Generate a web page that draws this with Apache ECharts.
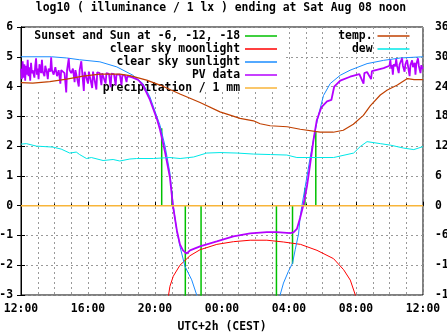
<!DOCTYPE html>
<html>
<head>
<meta charset="utf-8">
<script src="https://cdn.jsdelivr.net/npm/echarts@6/dist/echarts.min.js"></script>
<style>html,body{margin:0;padding:0;background:#fff}#c{width:447px;height:335px}</style>
</head>
<body>
<div id="c"></div>
<script>
// time axis: hours since 12:00 (Fri) ... 24 = 12:00 Sat
const xTickHours = [0, 4, 8, 12, 16, 20, 24];
const xTickLabels = ['12:00', '16:00', '20:00', '00:00', '04:00', '08:00', '12:00'];

// Sunset and sun at -6, -12, -18 (vertical markers: time, top, bottom)
const sunEventHours = [8.40, 9.01, 9.81, 10.75, 15.25, 16.21, 16.95, 17.60];
const sunEventTop   = [2.6, 0.5, 0, 0, 0, 0, 0.6, 2.5];
const sunEventBot   = [0, 0, -3.2, -3.2, -3.2, -1.95, 0, 0];

// clear sky moonlight (log10 lx)
const moonHours = [8.70, 8.89, 9.09, 9.49, 10.09, 10.69, 11.69, 12.68, 13.68, 14.68, 15.67, 16.69, 17.67, 18.66, 19.26, 19.66, 19.96, 20.05];
const moonLog   = [-3.4, -2.71, -2.37, -2.0, -1.68, -1.48, -1.3, -1.21, -1.16, -1.16, -1.22, -1.3, -1.5, -1.78, -2.15, -2.5, -3.0, -3.3];

// clear sky sunlight (log10 lx); null = no sun
const sunHours = [0, 1.82, 1.85, 2.73, 3.5, 4.71, 5.72, 6.68, 7.28, 7.7, 8.12, 8.3, 8.6, 8.89, 9.09, 9.29, 9.49, 9.79, 10.19, 10.49, 10.6,
                  13.0,
                  15.35, 15.47, 15.67, 15.97, 16.21, 16.37, 16.57, 16.67, 16.77, 16.97, 17.27, 17.57, 17.76, 18.06, 18.46, 19.06, 19.65, 20.66, 21.65, 22.65, 24];
const sunLog   = [5.0, 5.0, 4.97, 4.96, 4.9, 4.83, 4.66, 4.38, 4.1, 3.65, 2.98, 2.7, 2.0, 1.1, 0.0, -0.8, -1.37, -2.04, -2.49, -3.0, -3.3,
                  null,
                  -3.3, -3.0, -2.6, -2.2, -1.93, -1.48, -0.95, -0.36, 0.0, 0.64, 1.64, 2.54, 3.04, 3.7, 4.1, 4.38, 4.55, 4.77, 4.88, 4.96, 5.0];

// PV data (log10 lx)
const pvHours = [0.00,0.05,0.10,0.15,0.20,0.25,0.30,0.35,0.40,0.45,0.50,0.55,0.60,0.65,0.70,0.80,0.85,0.90,0.95,1.00,
  1.05,1.10,1.20,1.25,1.30,1.40,1.45,1.55,1.60,1.65,1.75,1.80,1.85,1.95,2.05,2.15,2.25,2.35,2.40,2.50,
  2.60,2.70,2.75,2.85,2.90,3.00,3.10,3.20,3.25,3.35,3.45,3.50,3.60,3.65,3.75,3.80,3.90,4.00,4.05,4.15,
  4.25,4.30,4.40,4.50,4.55,4.70,4.80,4.85,4.95,5.05,5.10,5.25,5.35,5.40,5.55,5.65,5.70,5.90,6.00,6.05,
  6.20,6.30,6.35,6.50,6.68,7.0,7.28,7.7,8.12,8.3,8.6,8.89,9.07,9.31,9.49,9.67,9.89,9.97,10.09,10.69,
  11.69,12.68,13.68,14.68,15.28,16.07,16.27,16.47,16.67,16.86,17.07,17.27,17.46,17.66,17.93,18.27,18.53,18.7,18.76,19.06,
  19.65,20.2,20.45,20.5,20.66,20.9,20.95,21.65,22.00,22.05,22.10,22.15,22.20,22.25,22.35,22.40,22.45,22.55,22.60,22.70,
  22.75,22.80,22.90,22.95,23.05,23.10,23.20,23.25,23.35,23.40,23.50,23.55,23.60,23.70,23.75,23.85,23.90,23.95,24.00];
const pvLog = [4.60,4.25,4.85,4.30,4.75,4.20,4.70,4.40,4.90,4.35,4.65,4.20,4.80,4.45,4.55,4.30,4.70,4.95,4.40,4.60,
  4.25,4.75,4.45,4.90,4.50,4.35,4.70,4.45,4.25,4.60,4.50,4.98,4.55,4.40,4.65,4.35,4.55,4.10,4.55,4.60,
  4.45,3.80,4.55,4.95,4.55,4.45,4.60,4.15,4.55,4.50,4.00,4.55,4.85,4.50,3.85,4.50,4.55,4.10,4.50,4.48,
  3.95,4.50,4.48,3.90,4.48,4.45,4.05,4.45,4.47,4.10,4.45,4.43,3.98,4.43,4.42,4.05,4.40,4.40,4.05,4.38,
  4.38,4.15,4.36,4.33,4.30,4.22,4.05,3.55,2.9,2.55,1.8,0.95,0.0,-0.85,-1.3,-1.5,-1.61,-1.55,-1.5,-1.37,
  -1.2,-1.03,-0.93,-0.89,-0.89,-0.92,-0.9,-0.78,-0.4,0.03,0.64,1.42,2.2,2.87,3.3,3.5,3.55,4.0,4.05,4.2,
  4.33,4.42,4.1,4.45,4.49,4.25,4.52,4.62,4.70,4.90,4.60,4.72,4.40,4.75,4.68,4.92,4.70,4.45,4.74,4.72,
  4.95,4.70,4.50,4.75,4.90,4.70,4.35,4.72,4.88,4.65,4.80,4.40,4.75,4.95,4.70,4.45,4.72,4.60,4.65];

// precipitation / 1 mm
const precipHours = [0, 2, 4, 6, 8, 10, 12, 14, 16, 18, 20, 22, 24];
const precipVals  = [0, 0, 0, 0, 0, 0, 0, 0, 0, 0, 0, 0, 0];

// temperature (deg C, right axis)
const tempHours = [0, 0.7, 1.72, 2.72, 3.71, 4.71, 5.9, 6.5, 7.5, 8.3, 9.49, 10.69, 11.88, 13.08, 13.88, 14.28, 14.87, 15.89, 16.67, 17.86, 18.64, 19.24, 19.84, 20.44, 20.85, 21.45, 21.87, 22.47, 23.07, 23.47, 24];
const tempC     = [24.8, 24.7, 25.0, 25.5, 26.1, 26.5, 26.5, 26.2, 25.3, 24.3, 22.5, 20.8, 18.9, 17.6, 17.1, 16.5, 16.1, 15.9, 15.4, 14.8, 14.8, 15.2, 16.4, 18.2, 20.1, 22.3, 23.3, 24.3, 25.6, 25.4, 25.4];

// dew point (deg C, right axis)
const dewHours = [0, 0.32, 0.92, 1.91, 2.4, 2.91, 3.3, 3.5, 3.91, 4.2, 4.9, 5.5, 5.9, 6.5, 6.9, 7.9, 8.89, 9.5, 10.3, 11.09, 11.88, 12.9, 13.88, 14.9, 15.87, 16.47, 17.3, 18.66, 19.86, 20.25, 20.66, 21.45, 22.05, 22.85, 23.45, 24];
const dewC     = [12.4, 12.5, 12.0, 11.8, 11.4, 10.6, 10.8, 10.3, 9.5, 9.7, 9.1, 9.3, 9.0, 9.4, 9.5, 9.5, 9.7, 9.5, 9.8, 10.6, 10.7, 10.6, 10.4, 10.3, 10.2, 9.7, 9.7, 9.7, 10.6, 11.9, 12.9, 12.5, 12.2, 11.6, 11.3, 11.9];

const zip = (xs, ys) => xs.map((x, i) => [x, ys[i] === null ? '-' : ys[i]]);
const sunEventData = [];
sunEventHours.forEach((h, i) => {
  sunEventData.push([h, sunEventBot[i]], [h, sunEventTop[i]], [h, '-']);
});

const FONT = 'DejaVu Sans Mono';
const FS = 11.4;
const txt = {fontFamily: FONT, fontWeight: 'bold', fontSize: FS, color: '#000'};

const chart = echarts.init(document.getElementById('c'), null, {renderer: 'canvas'});
chart.setOption({
  animation: false,
  backgroundColor: '#fff',
  title: {
    text: 'log10 ( illuminance / 1 lx ) ending at Sat Aug 08 noon',
    left: 221, top: 1, textAlign: 'center', padding: 0,
    textStyle: Object.assign({}, txt, {lineHeight: 14})
  },
  grid: {left: 21, right: 24, top: 27, bottom: 40, show: true, borderColor: '#000', borderWidth: 1,
         backgroundColor: 'transparent', containLabel: false, outerBoundsMode: 'none'},
  graphic: [{
    type: 'rect', z: 1, silent: true,
    shape: {x: 22, y: 28, width: 261, height: 64},
    style: {fill: '#fff'}
  }],
  legend: [{
    orient: 'vertical', align: 'right', right: 170, top: 29.5, padding: 0,
    icon: 'rect', itemWidth: 32, itemHeight: 1.5, itemGap: 0,
    textStyle: Object.assign({}, txt, {lineHeight: 13}),
    data: ['Sunset and Sun at -6, -12, -18', 'clear sky moonlight', 'clear sky sunlight', 'PV data', 'precipitation / 1 mm']
  }, {
    orient: 'vertical', align: 'right', right: 37.5, top: 29.5, padding: 0,
    icon: 'rect', itemWidth: 32, itemHeight: 1.5, itemGap: 0,
    textStyle: Object.assign({}, txt, {lineHeight: 13}),
    data: ['temp.', 'dew']
  }],
  xAxis: [{
    type: 'value', min: 0, max: 24, interval: 1, position: 'bottom',
    axisLine: {show: false}, axisTick: {show: false}, axisLabel: {show: false},
    splitLine: {show: true, lineStyle: {color: '#999', type: [2, 3], width: 1}}
  }, {
    type: 'value', min: 0, max: 24, interval: 4, position: 'bottom',
    name: 'UTC+2h (CEST)', nameLocation: 'middle', nameGap: 27,
    nameTextStyle: txt,
    axisLine: {show: true, lineStyle: {color: '#000', width: 1}},
    axisTick: {show: true, inside: true, length: 4, lineStyle: {color: '#000'}},
    minorTick: {show: true, splitNumber: 4, length: 2, lineStyle: {color: '#000'}},
    axisLabel: Object.assign({}, txt, {margin: 9, formatter: v => {
      const i = xTickHours.indexOf(v); return i >= 0 ? xTickLabels[i] : '';
    }}),
    splitLine: {show: false}
  }],
  yAxis: [{
    type: 'value', min: -3, max: 6, interval: 1, position: 'left',
    axisLine: {show: true, lineStyle: {color: '#000'}},
    axisTick: {show: true, inside: true, length: 4, lineStyle: {color: '#000'}},
    axisLabel: Object.assign({}, txt, {margin: 8}),
    splitLine: {show: true, lineStyle: {color: '#999', type: [2, 3], width: 1}}
  }, {
    type: 'value', min: -18, max: 36, interval: 6, position: 'right',
    axisLine: {show: true, lineStyle: {color: '#000'}},
    axisTick: {show: true, inside: true, length: 4, lineStyle: {color: '#000'}},
    axisLabel: Object.assign({}, txt, {margin: 12}),
    splitLine: {show: false}
  }],
  series: [{
    name: 'Sunset and Sun at -6, -12, -18', type: 'line', xAxisIndex: 1, yAxisIndex: 0,
    data: sunEventData, symbol: 'none', connectNulls: false, z: 2,
    lineStyle: {color: '#00c000', width: 1.5}, itemStyle: {color: '#00c000'}
  }, {
    name: 'clear sky moonlight', type: 'line', xAxisIndex: 1, yAxisIndex: 0,
    data: zip(moonHours, moonLog), symbol: 'none', z: 3,
    lineStyle: {color: '#ff0000', width: 1}, itemStyle: {color: '#ff0000'}
  }, {
    name: 'clear sky sunlight', type: 'line', xAxisIndex: 1, yAxisIndex: 0,
    data: zip(sunHours, sunLog), symbol: 'none', connectNulls: false, z: 4,
    lineStyle: {color: '#1a8cff', width: 1}, itemStyle: {color: '#1a8cff'}
  }, {
    name: 'PV data', type: 'line', xAxisIndex: 1, yAxisIndex: 0,
    data: zip(pvHours, pvLog), symbol: 'none', z: 5,
    lineStyle: {color: '#b400ff', width: 1.8}, itemStyle: {color: '#b400ff'}
  }, {
    name: 'precipitation / 1 mm', type: 'line', xAxisIndex: 1, yAxisIndex: 0,
    data: zip(precipHours, precipVals), symbol: 'none', z: 6,
    lineStyle: {color: '#f8b53a', width: 1.5}, itemStyle: {color: '#f8b53a'}
  }, {
    name: 'temp.', type: 'line', xAxisIndex: 1, yAxisIndex: 1,
    data: zip(tempHours, tempC), symbol: 'none', z: 7,
    lineStyle: {color: '#c04000', width: 1.2}, itemStyle: {color: '#c04000'}
  }, {
    name: 'dew', type: 'line', xAxisIndex: 1, yAxisIndex: 1,
    data: zip(dewHours, dewC), symbol: 'none', z: 7,
    lineStyle: {color: '#00e8e8', width: 1}, itemStyle: {color: '#00e8e8'}
  }]
});
</script>
</body>
</html>
